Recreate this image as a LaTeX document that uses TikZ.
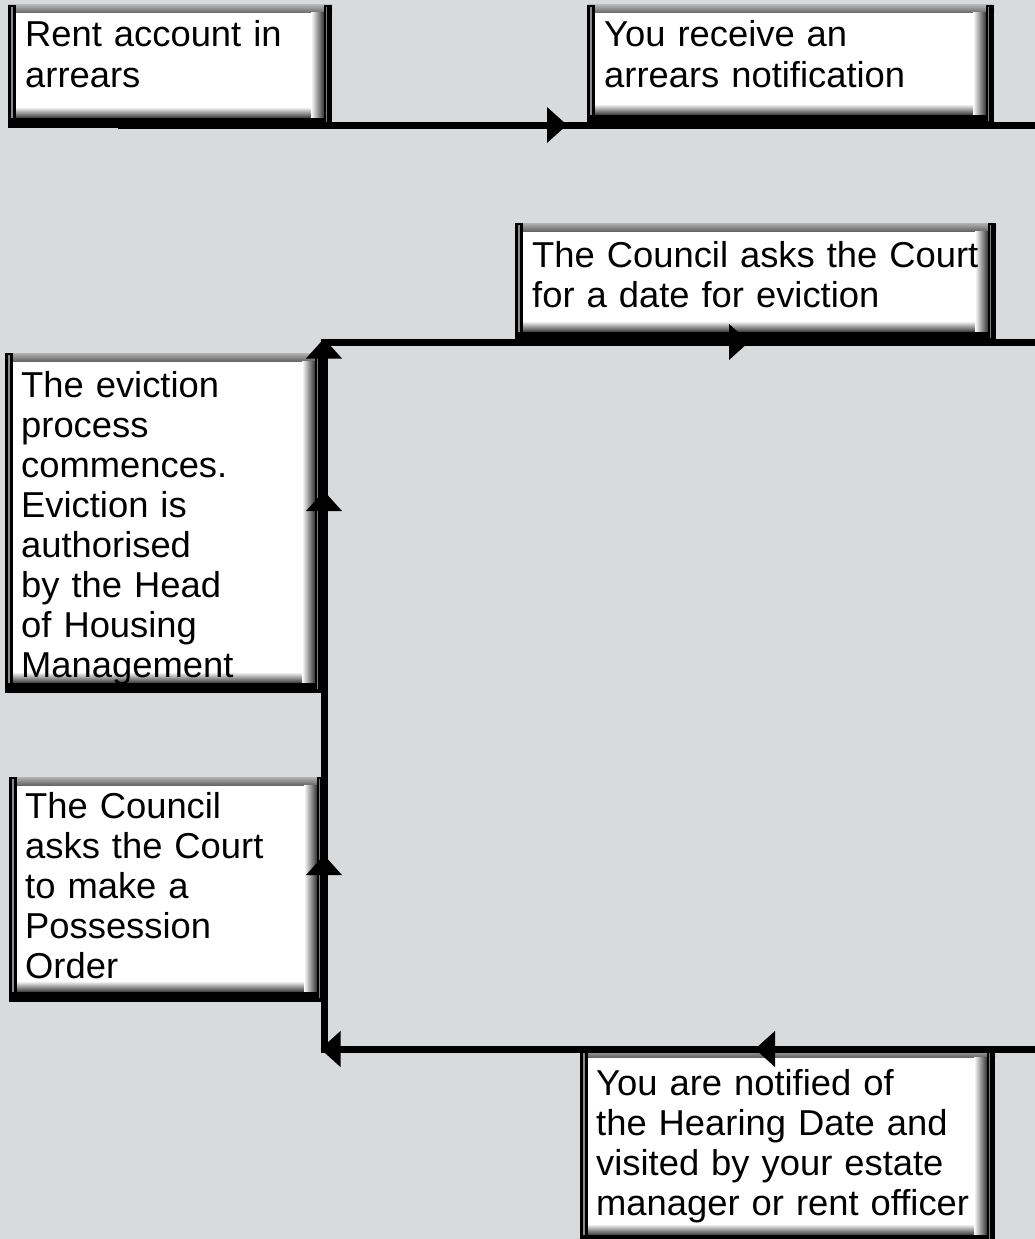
\documentclass[tikz,border=0pt]{standalone}
\usepackage{fontspec}
\setmainfont{Liberation Sans}[FakeStretch=1.01]
\usetikzlibrary{decorations.markings}
\definecolor{bg}{RGB}{217,218,220}

% name, x1, y1, x2, y2  (pixel-like units, y downward)
\newcommand\bevbox[5]{%
  \fill[white] (#2,#3) rectangle (#4,#5);
  \shade[top color=black!30,bottom color=black!60] (#2,#3) rectangle (#4,{#3+8});
  \shade[top color=white,bottom color=black!85] ({#2+8},{#5-21}) rectangle ({#4-8},{#5-9});
  \shade[left color=white,right color=black!80] ({#4-21},{#3+8}) rectangle ({#4-8},{#5-9});
  \fill[black] (#2,#3) rectangle ({#2+8},#5);
  \fill[black!45] ({#2+2.5},{#3+2}) rectangle ({#2+5},{#5-2});
  \fill[black] (#2,{#5-10}) rectangle (#4,#5);
  \fill[black] ({#4-8},#3) rectangle (#4,#5);
  \fill[black!50] ({#4-6},{#3+2}) rectangle ({#4-5},{#5-4});
  \node[inner sep=0pt, minimum width={#4-#2}, minimum height={#5-#3}, anchor=north west] (#1) at (#2,#3) {};
}
\newcommand\tritip{\fill[black] (-20,-18) -- (-20,18) -- (0,0) -- cycle;}

\tikzset{
  txt/.style={anchor=base west, inner sep=0pt, align=left, text width=470pt,
    font=\fontsize{36}{40}\selectfont},
  conn/.style={line width=7pt, black},
}

\begin{document}
\begin{tikzpicture}[x=1pt,y=-1pt]
\fill[bg] (0,0) rectangle (1035,1239);
\useasboundingbox (0,0) rectangle (1035,1239);

% boxes
\bevbox{b1}{8}{5}{332}{128}
\bevbox{b2}{587}{5}{994}{125}
\bevbox{b3}{515}{223}{996}{342}
\bevbox{b4}{5}{353}{323}{693}
\bevbox{b5}{9}{777}{325}{1002}
\bevbox{b6}{580}{1049}{995}{1245}

% texts
\node[txt] (t1) at (25,47) {Rent account in\\arrears};
\node[txt] (t2) at (604,47) {You receive an\\arrears notification};
\node[txt] (t3) at (532,267) {The Council asks the Court\\for a date for eviction};
\node[txt] (t4) at (21,397) {The eviction\\process\\commences.\\Eviction is\\authorised\\by the Head\\of Housing\\Management};
\node[txt] (t5) at (25,818) {The Council\\asks the Court\\to make a\\Possession\\Order};
\node[txt] (t6) at (596,1095) {You are notified of\\the Hearing Date and\\visited by your estate\\manager or rent officer};

% connector end points
\coordinate (a1) at (118,125);
\coordinate (z1) at (1035,125);
\coordinate (tl) at (320.5,342);
\coordinate (z2) at (1035,342);
\coordinate (vb) at (324,1052.5);
\coordinate (vt) at (324,338.5);
\coordinate (z3) at (1035,1049);
\coordinate (bl) at (320.5,1049);

% connectors
\draw[conn, postaction={decorate}, decoration={markings,
  mark=at position 449pt with {\tritip}}] (a1) -- (b2.south west |- a1) -- (z1);
\draw[conn, postaction={decorate}, decoration={markings,
  mark=at position 428.5pt with {\tritip}}] (tl) -- (b3.south west |- tl) -- (z2);
\draw[conn, postaction={decorate}, decoration={markings,
  mark=at position 197.5pt with {\tritip},
  mark=at position 561.5pt with {\tritip},
  mark=at position 1 with {\tritip}}] (vb) -- (vt);
\draw[conn, postaction={decorate}, decoration={markings,
  mark=at position 280pt with {\tritip},
  mark=at position 1 with {\tritip}}] (z3) -- (bl);
\end{tikzpicture}
\end{document}
